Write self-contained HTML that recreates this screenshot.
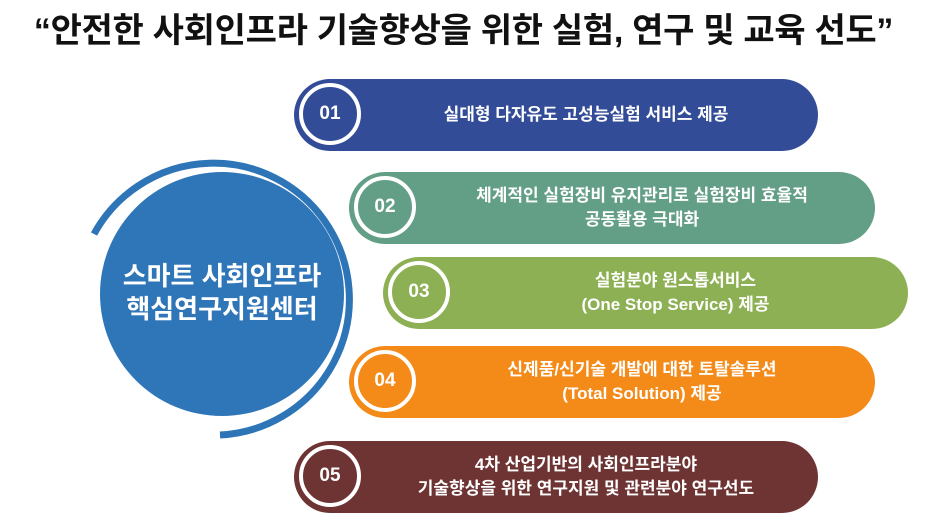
<!DOCTYPE html>
<html><head><meta charset="utf-8"><style>
body{margin:0;width:927px;height:517px;background:#fff;overflow:hidden;position:relative;font-family:"Liberation Sans","Noto Sans CJK KR",sans-serif;}
.t{position:absolute;left:0;width:927px;top:3px;text-align:center;font-size:34px;font-weight:bold;color:#111;letter-spacing:-0.3px;white-space:nowrap}
.p{position:absolute;height:72px;border-radius:36px;color:#fff}
.r{position:absolute;left:5px;top:4px;width:54px;height:54px;border:4px solid #fff;border-radius:50%;}
.n{position:absolute;left:7px;top:7px;width:40px;height:40px;border-radius:50%;text-align:center;line-height:40px;font-size:19px;font-weight:bold;color:#fff}
.x{position:absolute;left:70px;right:10px;top:0;height:72px;display:flex;align-items:center;justify-content:center;text-align:center;font-size:17px;font-weight:bold;line-height:24px}
</style></head><body>
<div class="t">“안전한 사회인프라 기술향상을 위한 실험, 연구 및 교육 선도”</div>
<svg width="927" height="517" style="position:absolute;left:0;top:0">
<path d="M 94 234 A 136 136 0 1 1 220 435" fill="none" stroke="#2e75b8" stroke-width="7"/>
<circle cx="222" cy="294" r="122" fill="#2f76b8"/>
<text x="222" y="285" text-anchor="middle" font-size="26" font-weight="bold" fill="#fff" font-family="Liberation Sans, Noto Sans CJK KR, sans-serif">스마트 사회인프라</text>
<text x="222" y="318" text-anchor="middle" font-size="26" font-weight="bold" fill="#fff" font-family="Liberation Sans, Noto Sans CJK KR, sans-serif">핵심연구지원센터</text>
</svg>
<div class="p" style="left:294px;top:79px;width:524px;background:#334c97"><div class="r"><div class="n" style="background:#334c97">01</div></div><div class="x">실대형 다자유도 고성능실험 서비스 제공</div></div>
<div class="p" style="left:349px;top:172px;width:526px;background:#639e87"><div class="r"><div class="n" style="background:#639e87">02</div></div><div class="x">체계적인 실험장비 유지관리로 실험장비 효율적<br>공동활용 극대화</div></div>
<div class="p" style="left:383px;top:257px;width:525px;background:#8db054"><div class="r"><div class="n" style="background:#8db054">03</div></div><div class="x">실험분야 원스톱서비스<br>(One Stop Service) 제공</div></div>
<div class="p" style="left:349px;top:346px;width:526px;background:#f48a18"><div class="r"><div class="n" style="background:#f48a18">04</div></div><div class="x">신제품/신기술 개발에 대한 토탈솔루션<br>(Total Solution) 제공</div></div>
<div class="p" style="left:294px;top:441px;width:524px;background:#6e3434"><div class="r"><div class="n" style="background:#6e3434">05</div></div><div class="x">4차 산업기반의 사회인프라분야<br>기술향상을 위한 연구지원 및 관련분야 연구선도</div></div>
</body></html>
